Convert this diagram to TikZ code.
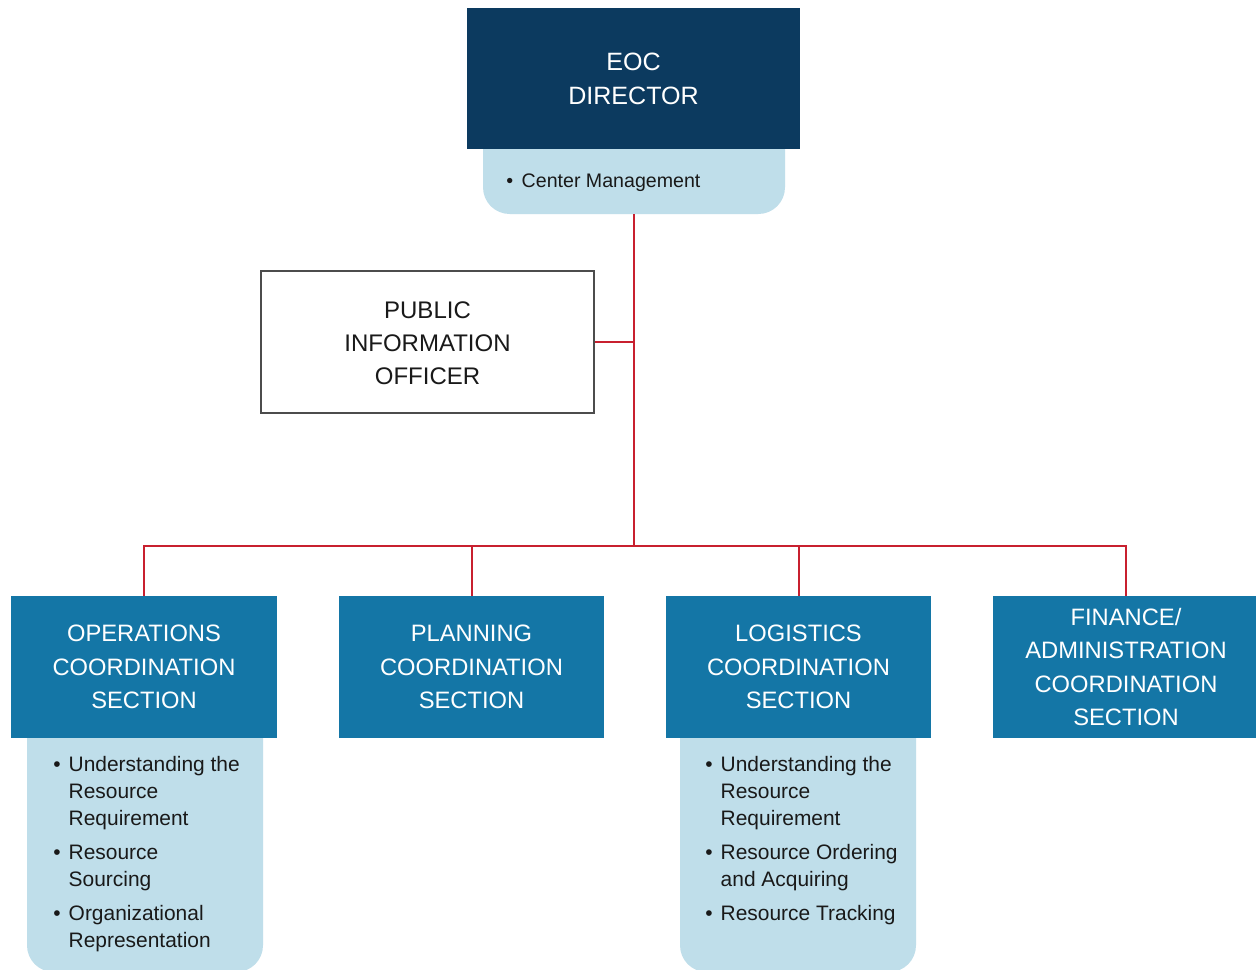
\documentclass[tikz,border=0pt]{standalone}
\usepackage{fontspec}
\setmainfont{Liberation Sans}
\usetikzlibrary{fit}
\definecolor{navy}{HTML}{0C3A5F}
\definecolor{secblue}{HTML}{1476A6}
\definecolor{lightblue}{HTML}{BFDEEA}
\definecolor{linkred}{HTML}{C8202F}
\newcommand\bmark{\makebox[11.6pt][l]{\textbullet}}
\begin{document}
\begin{tikzpicture}[x=0.75pt,y=-0.75pt,
  dirbox/.style={fill=navy, draw=none, inner sep=0},
  dirlabel/.style={text=white, inner sep=0, align=center, font=\fontsize{18.8}{25.5}\selectfont},
  secbox/.style={fill=secblue, inner sep=0},
  seclabel/.style={text=white, inner sep=0, align=center, font=\fontsize{17.8}{25}\selectfont},
  pane/.style={fill=lightblue, rounded corners=20pt, inner sep=0},
  piobox/.style={fill=white, draw=black!70, line width=0.9pt, inner sep=0},
  piolabel/.style={inner sep=0, align=center, text=black!90, font=\fontsize{18}{25}\selectfont},
  blist/.style={anchor=base west, inner sep=0, text=black!90, font=\fontsize{15.7}{20.6}\selectfont},
  link/.style={draw=linkred, line width=1.5pt}]
\clip (0,0) rectangle (1256,970);
\fill[white] (0,0) rectangle (1256,970);
% panes (light blue)
\node[pane, fit={(483,110) (785,214)}] (cm) {};
\node[pane, fit={(27,700) (263,972)}] (opsp) {};
\node[pane, fit={(680,700) (916,972)}] (logp) {};
% main boxes
\node[dirbox, fit={(467,8) (800,149)}] (dir) {};
\node[piobox, fit={(261,271) (594,413)}] (pio) {};
\node[secbox, fit={(11,596) (277,738)}] (ops) {};
\node[secbox, fit={(339,596) (604,738)}] (plan) {};
\node[secbox, fit={(666,596) (931,738)}] (log) {};
\node[secbox, fit={(993,596) (1259,738)}] (fin) {};
% box labels
\node[dirlabel] (dirL) at ([yshift=-0.5pt]dir.center) {EOC\\DIRECTOR};
\node[piolabel] (pioL) at ([yshift=-1pt]pio.center) {PUBLIC\\INFORMATION\\OFFICER};
\node[seclabel] (opsL) at (ops.center) {OPERATIONS\\COORDINATION\\SECTION};
\node[seclabel] (planL) at (plan.center) {PLANNING\\COORDINATION\\SECTION};
\node[seclabel] (logL) at (log.center) {LOGISTICS\\COORDINATION\\SECTION};
\node[seclabel] (finL) at (fin.center) {FINANCE/\\ADMINISTRATION\\COORDINATION\\SECTION};
% bullet texts
\node[anchor=base west, inner sep=0, text=black!90, font=\fontsize{14.7}{18}\selectfont] (cmt) at (506,187) {\bmark Center Management};
\node[blist] (opst) at (53,771) {\begin{tabular}[t]{@{}l@{}l@{}}
\bmark & Understanding the\\ & Resource\\ & Requirement\\[4.4pt]
\bmark & Resource\\ & Sourcing\\[4.4pt]
\bmark & Organizational\\ & Representation\end{tabular}};
\node[blist] (logt) at (705,771) {\begin{tabular}[t]{@{}l@{}l@{}}
\bmark & Understanding the\\ & Resource\\ & Requirement\\[4.4pt]
\bmark & Resource Ordering\\ & and Acquiring\\[4.4pt]
\bmark & Resource Tracking\end{tabular}};
% connectors
\coordinate (hub) at (cm.south |- 0,546);
\draw[link] (cm.south) -- (hub);
\draw[link] (pio.east) -- (pio.east -| cm.south);
\draw[link] (hub) -| (ops.north);
\draw[link] (hub) -| (plan.north);
\draw[link] (hub) -| (log.north);
\draw[link] (hub) -| (fin.north);
\end{tikzpicture}
\end{document}
